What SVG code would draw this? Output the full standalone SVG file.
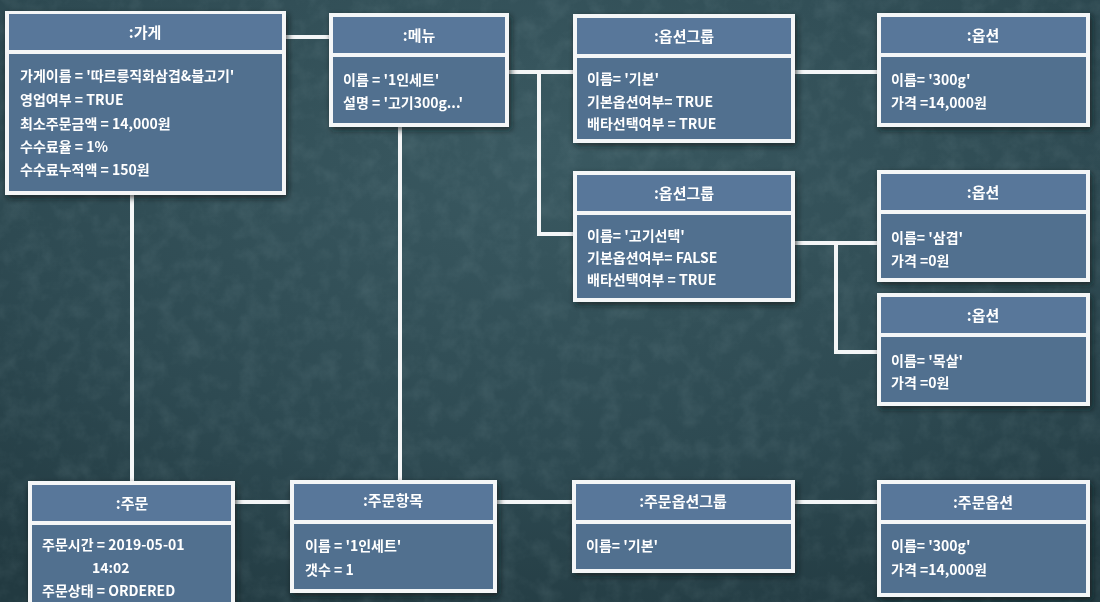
<svg xmlns="http://www.w3.org/2000/svg" width="1100" height="602" viewBox="0 0 1100 602">
<defs>
<style>
.frame{fill:#f4f6f7;}
.hd{fill:#58779a;}
.bd{fill:#51708f;}
.ttl{font-family:"Noto Sans CJK KR","Noto Sans",sans-serif;font-weight:700;font-size:15px;fill:#ffffff;text-anchor:middle;}
.att{font-family:"Noto Sans CJK KR","Noto Sans",sans-serif;font-weight:700;font-size:14px;fill:#ffffff;}
.ln{stroke:#f4f6f7;stroke-width:4;fill:none;stroke-linecap:square;}
</style>
<radialGradient id="bg1" cx="0.5" cy="0.25" r="0.85">
<stop offset="0" stop-color="#3a5961"/>
<stop offset="0.6" stop-color="#2e4a52"/>
<stop offset="1" stop-color="#223a41"/>
</radialGradient>
<filter id="noise" x="0" y="0" width="100%" height="100%">
<feTurbulence type="fractalNoise" baseFrequency="0.05" numOctaves="4" seed="7" result="t"/>
<feColorMatrix type="matrix" values="0 0 0 0 0.55  0 0 0 0 0.72  0 0 0 0 0.75  0 0 0 1 -0.4" in="t"/>
</filter>
<filter id="sh" x="-10%" y="-10%" width="130%" height="130%">
<feDropShadow dx="2" dy="3" stdDeviation="3" flood-color="#0c1a1f" flood-opacity="0.7"/>
</filter>
</defs>
<rect width="1100" height="602" fill="url(#bg1)"/>
<rect width="1100" height="602" filter="url(#noise)" opacity="0.16"/>

<g id="connectors">
<line class="ln" x1="285" y1="37" x2="330" y2="37"/>
<line class="ln" x1="132" y1="195" x2="132" y2="482"/>
<line class="ln" x1="400" y1="127" x2="400" y2="481"/>
<line class="ln" x1="509" y1="72" x2="574" y2="72"/>
<polyline class="ln" points="539,72 539,234 574,234"/>
<line class="ln" x1="795" y1="72" x2="878" y2="72"/>
<line class="ln" x1="795" y1="243" x2="878" y2="243"/>
<polyline class="ln" points="836,243 836,352 878,352"/>
<line class="ln" x1="235" y1="502" x2="291" y2="502"/>
<line class="ln" x1="497" y1="502" x2="573" y2="502"/>
<line class="ln" x1="795" y1="502" x2="878" y2="502"/>
</g>

<g id="store" filter="url(#sh)">
<rect class="frame" x="5" y="11" width="281" height="184"/>
<rect class="hd" x="9" y="14" width="273" height="36"/>
<rect class="bd" x="9" y="54" width="273" height="137"/>
<text class="ttl" x="145" y="38">:가게</text>
<text class="att" x="20" y="81">가게이름 = '따르릉직화삼겹&amp;불고기'</text>
<text class="att" x="20" y="105">영업여부 = TRUE</text>
<text class="att" x="20" y="129">최소주문금액 = 14,000원</text>
<text class="att" x="20" y="152">수수료율 = 1%</text>
<text class="att" x="20" y="175">수수료누적액 = 150원</text>
</g>

<g id="menu" filter="url(#sh)">
<rect class="frame" x="329" y="13" width="180" height="114"/>
<rect class="hd" x="333" y="17" width="172" height="36"/>
<rect class="bd" x="333" y="57" width="172" height="66"/>
<text class="ttl" x="419" y="41">:메뉴</text>
<text class="att" x="343" y="85">이름 = '1인세트'</text>
<text class="att" x="343" y="108">설명 = '고기300g...'</text>
</g>

<g id="optiongroup1" filter="url(#sh)">
<rect class="frame" x="573" y="14" width="222" height="129"/>
<rect class="hd" x="577" y="18" width="214" height="36"/>
<rect class="bd" x="577" y="58" width="214" height="81"/>
<text class="ttl" x="684" y="42">:옵션그룹</text>
<text class="att" x="587" y="84">이름= '기본'</text>
<text class="att" x="587" y="107">기본옵션여부= TRUE</text>
<text class="att" x="587" y="129">배타선택여부 = TRUE</text>
</g>

<g id="option300g" filter="url(#sh)">
<rect class="frame" x="877" y="13" width="213" height="114"/>
<rect class="hd" x="881" y="17" width="205" height="36"/>
<rect class="bd" x="881" y="57" width="205" height="66"/>
<text class="ttl" x="983" y="41">:옵션</text>
<text class="att" x="891" y="85">이름= '300g'</text>
<text class="att" x="891" y="108">가격 =14,000원</text>
</g>

<g id="optiongroup2" filter="url(#sh)">
<rect class="frame" x="573" y="171" width="222" height="131"/>
<rect class="hd" x="577" y="175" width="214" height="36"/>
<rect class="bd" x="577" y="215" width="214" height="83"/>
<text class="ttl" x="684" y="199">:옵션그룹</text>
<text class="att" x="587" y="241">이름= '고기선택'</text>
<text class="att" x="587" y="263">기본옵션여부= FALSE</text>
<text class="att" x="587" y="285">배타선택여부 = TRUE</text>
</g>

<g id="optionSamgyeop" filter="url(#sh)">
<rect class="frame" x="877" y="170" width="213" height="112"/>
<rect class="hd" x="881" y="174" width="205" height="36"/>
<rect class="bd" x="881" y="214" width="205" height="64"/>
<text class="ttl" x="983" y="198">:옵션</text>
<text class="att" x="891" y="243">이름= '삼겹'</text>
<text class="att" x="891" y="266">가격 =0원</text>
</g>

<g id="optionMoksal" filter="url(#sh)">
<rect class="frame" x="877" y="293" width="213" height="113"/>
<rect class="hd" x="881" y="297" width="205" height="36"/>
<rect class="bd" x="881" y="337" width="205" height="65"/>
<text class="ttl" x="983" y="321">:옵션</text>
<text class="att" x="891" y="366">이름= '목살'</text>
<text class="att" x="891" y="388">가격 =0원</text>
</g>

<g id="order" filter="url(#sh)">
<rect class="frame" x="28" y="481" width="207" height="130"/>
<rect class="hd" x="32" y="485" width="199" height="36"/>
<rect class="bd" x="32" y="525" width="199" height="82"/>
<text class="ttl" x="132" y="509">:주문</text>
<text class="att" x="42" y="550">주문시간 = 2019-05-01</text>
<text class="att" x="92" y="573">14:02</text>
<text class="att" x="42" y="596">주문상태 = ORDERED</text>
</g>

<g id="orderitem" filter="url(#sh)">
<rect class="frame" x="290" y="480" width="207" height="113"/>
<rect class="hd" x="294" y="484" width="199" height="36"/>
<rect class="bd" x="294" y="524" width="199" height="65"/>
<text class="ttl" x="393" y="506">:주문항목</text>
<text class="att" x="305" y="551">이름 = '1인세트'</text>
<text class="att" x="305" y="575">갯수 = 1</text>
</g>

<g id="orderoptiongroup" filter="url(#sh)">
<rect class="frame" x="572" y="480" width="223" height="93"/>
<rect class="hd" x="576" y="484" width="215" height="36"/>
<rect class="bd" x="576" y="524" width="215" height="45"/>
<text class="ttl" x="683" y="507">:주문옵션그룹</text>
<text class="att" x="586" y="551">이름= '기본'</text>
</g>

<g id="orderoption" filter="url(#sh)">
<rect class="frame" x="877" y="480" width="213" height="117"/>
<rect class="hd" x="881" y="484" width="205" height="36"/>
<rect class="bd" x="881" y="524" width="205" height="69"/>
<text class="ttl" x="983" y="508">:주문옵션</text>
<text class="att" x="891" y="551">이름= '300g'</text>
<text class="att" x="891" y="575">가격 =14,000원</text>
</g>
</svg>
